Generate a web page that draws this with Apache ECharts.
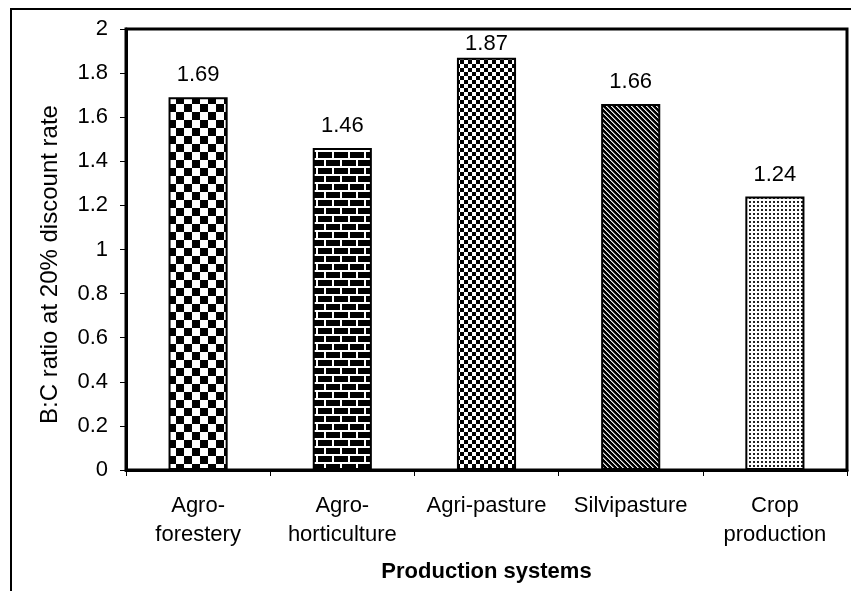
<!DOCTYPE html>
<html>
<head>
<meta charset="utf-8">
<script src="https://cdn.jsdelivr.net/npm/echarts@6/dist/echarts.min.js"></script>
<style>
	html,body{margin:0;padding:0;background:#fff;}
	#chart{width:851px;height:591px;}
</style>
</head>
<body>
<div id="chart"></div>
<script>
	// data
	var systems = ['Agro-\nforestery', 'Agro-\nhorticulture', 'Agri-pasture', 'Silvipasture', 'Crop\nproduction'];
	var bcRatio = [1.69, 1.46, 1.87, 1.66, 1.24];
	var yTicks = { min: 0, max: 2, interval: 0.2 };

	// fill patterns, drawn on small canvases
	function tile(w, h, draw) {
		var c = document.createElement('canvas');
		c.width = w; c.height = h;
		var g = c.getContext('2d');
		draw(g, w, h);
		return { image: c, repeat: 'repeat' };
	}
	var patterns = [
		// big checkerboard
		tile(16, 16, function (g) {
			g.fillStyle = '#fff'; g.fillRect(0, 0, 16, 16);
			g.fillStyle = '#000'; g.fillRect(0, 0, 8, 8); g.fillRect(8, 8, 8, 8);
		}),
		// black bricks, white mortar
		tile(16, 16, function (g) {
			g.fillStyle = '#000'; g.fillRect(0, 0, 16, 16);
			g.fillStyle = '#fff';
			g.fillRect(0, 6, 16, 2); g.fillRect(0, 14, 16, 2);
			g.fillRect(4, 0, 2, 6); g.fillRect(12, 8, 2, 6);
		}),
		// small checkerboard
		tile(8, 8, function (g) {
			g.fillStyle = '#fff'; g.fillRect(0, 0, 8, 8);
			g.fillStyle = '#000'; g.fillRect(0, 0, 4, 4); g.fillRect(4, 4, 4, 4);
		}),
		// dark diagonal stripes
		tile(5, 5, function (g) {
			g.fillStyle = '#000'; g.fillRect(0, 0, 5, 5);
			for (var i = 0; i < 5; i++) {
				g.fillStyle = '#eee'; g.fillRect(i, i, 1, 1);
				g.fillStyle = '#888'; g.fillRect((i + 1) % 5, i, 1, 1);
			}
		}),
		// fine dots
		tile(4, 4, function (g) {
			g.fillStyle = '#fff'; g.fillRect(0, 0, 4, 4);
			g.fillStyle = '#222'; g.fillRect(1, 1, 2, 2);
		})
	];

	var font = 'Arial, "Liberation Sans", sans-serif';
	var fs = 22;

	var chart = echarts.init(document.getElementById('chart'), null, { renderer: 'canvas' });
	var option = {
		animation: false,
		backgroundColor: '#fff',
		textStyle: { fontFamily: font },
		grid: {
			left: 126, right: 4, top: 29, bottom: 121,
			show: true, borderColor: '#000', borderWidth: 3
		},
		graphic: [{
			type: 'rect',
			shape: { x: 11, y: 9, width: 900, height: 700 },
			style: { fill: null, stroke: '#000', lineWidth: 2 },
			silent: true
		}],
		xAxis: {
			type: 'category',
			data: systems,
			name: 'Production systems',
			nameLocation: 'middle',
			nameGap: 91,
			nameTextStyle: { fontSize: fs, fontWeight: 'bold', color: '#000', fontFamily: font },
			axisLine: { lineStyle: { color: '#000', width: 3 } },
			axisTick: { show: true, length: 6, lineStyle: { color: '#000', width: 1 } },
			axisLabel: { fontSize: fs, color: '#000', margin: 21, lineHeight: 29, fontFamily: font, interval: 0 }
		},
		yAxis: {
			type: 'value',
			min: yTicks.min, max: yTicks.max, interval: yTicks.interval,
			name: 'B:C ratio at 20% discount rate',
			nameLocation: 'middle',
			nameGap: 64,
			nameTextStyle: { fontSize: 24, color: '#000', fontFamily: font, padding: [0, 30, 0, 0] },
			axisLine: { show: true, lineStyle: { color: '#000', width: 3 } },
			axisTick: { show: true, length: 6, lineStyle: { color: '#000', width: 1 } },
			splitLine: { show: false },
			axisLabel: {
				fontSize: fs, color: '#000', margin: 18, fontFamily: font,
				formatter: function (v) { return String(Math.round(v * 10) / 10); }
			}
		},
		series: [{
			type: 'bar',
			barWidth: '41%',
			data: bcRatio.map(function (v, i) {
				var d = { value: v, itemStyle: { color: patterns[i] } };
				// the tallest label is kept inside the plot frame
				if (v > 1.8) d.label = { distance: 3 };
				return d;
			}),
			itemStyle: { borderColor: '#000', borderWidth: 2 },
			label: {
				show: true, position: 'top', distance: 11,
				fontSize: fs, color: '#000', fontFamily: font,
				formatter: function (p) { return p.value.toFixed(2); }
			}
		}]
	};
	chart.setOption(option);
</script>
</body>
</html>
